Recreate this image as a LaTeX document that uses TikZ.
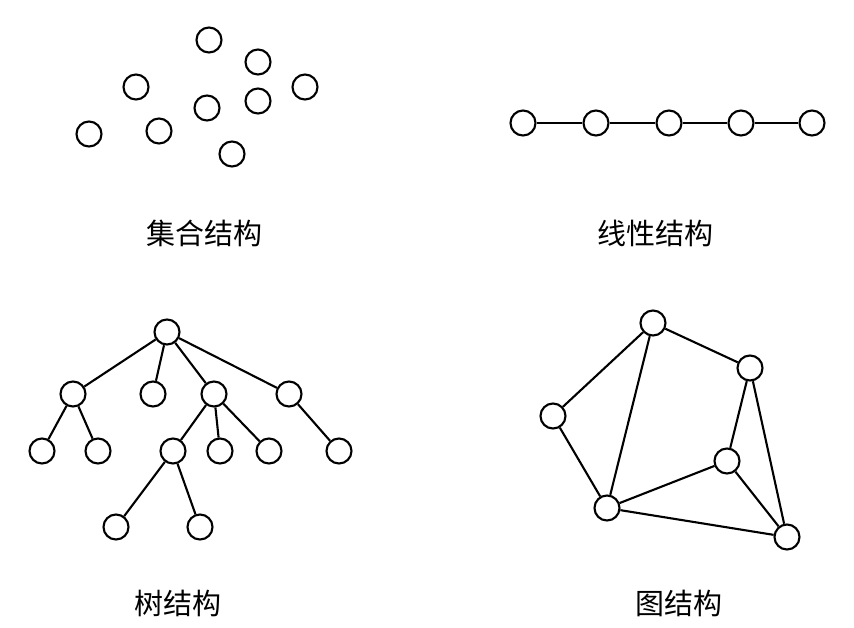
\documentclass[tikz,border=0pt]{standalone}
\usepackage{fontspec}
\newfontfamily\cjk{Noto Sans CJK SC}
\begin{document}
\begin{tikzpicture}[x=1pt,y=-1pt,
  vtx/.style={circle,draw,line width=2.1pt,minimum size=25pt,inner sep=0pt},
  edge/.style={line width=2.1pt},
  lbl/.style={font=\cjk\fontsize{29}{33}\selectfont}]
\useasboundingbox[fill=white] (0,0) rectangle (854,627);
% set structure
\node[vtx] (s1) at (209,40) {};
\node[vtx] (s2) at (258,62) {};
\node[vtx] (s3) at (136,87) {};
\node[vtx] (s4) at (305,87) {};
\node[vtx] (s5) at (207,108) {};
\node[vtx] (s6) at (258,101) {};
\node[vtx] (s7) at (89,134) {};
\node[vtx] (s8) at (159,131) {};
\node[vtx] (s9) at (232,154) {};
\node[lbl] (t1) at (204,233) {集合结构};
% linear
\node[vtx] (l1) at (523,123) {};
\node[vtx] (l2) at (596,123) {};
\node[vtx] (l3) at (669,123) {};
\node[vtx] (l4) at (741,123) {};
\node[vtx] (l5) at (812,123) {};
\draw[edge] (l1)--(l2) (l2)--(l3) (l3)--(l4) (l4)--(l5);
\node[lbl] (t2) at (655,233) {线性结构};
% tree
\node[vtx] (r) at (167,332) {};
\node[vtx] (a) at (73,394) {};
\node[vtx] (b) at (153,394) {};
\node[vtx] (c) at (214,394) {};
\node[vtx] (d) at (289,394) {};
\node[vtx] (a1) at (42,451) {};
\node[vtx] (a2) at (98,451) {};
\node[vtx] (c1) at (173,451) {};
\node[vtx] (c2) at (220,451) {};
\node[vtx] (c3) at (269,451) {};
\node[vtx] (d1) at (339,451) {};
\node[vtx] (e1) at (116,527) {};
\node[vtx] (e2) at (200,527) {};
\draw[edge] (r)--(a) (r)--(b) (r)--(c) (r)--(d)
  (a)--(a1) (a)--(a2) (c)--(c1) (c)--(c2) (c)--(c3) (d)--(d1)
  (c1)--(e1) (c1)--(e2);
\node[lbl] (t3) at (178,603) {树结构};
% graph
\node[vtx] (g1) at (653,323) {};
\node[vtx] (g2) at (750,368) {};
\node[vtx] (g3) at (553,416) {};
\node[vtx] (g4) at (727,461) {};
\node[vtx] (g5) at (607,508) {};
\node[vtx] (g6) at (787,537) {};
\draw[edge] (g1)--(g3) (g1)--(g5) (g1)--(g2) (g2)--(g4) (g2)--(g6)
  (g3)--(g5) (g5)--(g4) (g5)--(g6) (g4)--(g6);
\node[lbl] (t4) at (679,603) {图结构};
\end{tikzpicture}
\end{document}
